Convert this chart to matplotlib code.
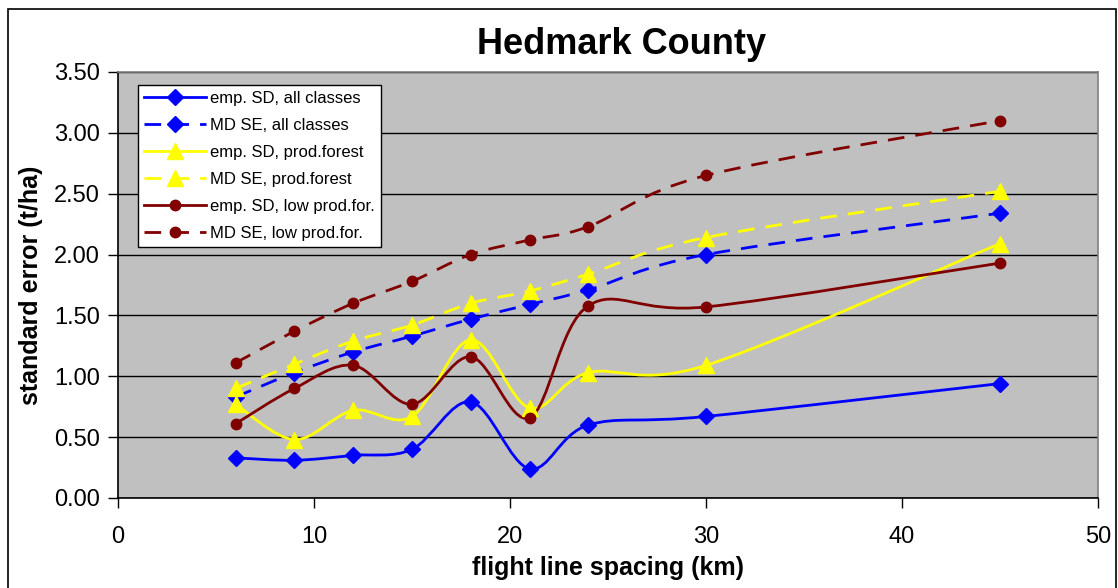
import numpy as np
import matplotlib
matplotlib.use("Agg")
import matplotlib.pyplot as plt
from matplotlib.path import Path
from matplotlib.patches import PathPatch, Rectangle
from matplotlib.lines import Line2D

plt.rcParams['font.family'] = ['Liberation Sans', 'DejaVu Sans']

spacing = [6, 9, 12, 15, 18, 21, 24, 30, 45]
emp_sd_all = [0.33, 0.31, 0.35, 0.40, 0.79, 0.24, 0.60, 0.67, 0.94]
md_se_all = [0.83, 1.03, 1.20, 1.33, 1.47, 1.59, 1.71, 2.00, 2.34]
emp_sd_prod = [0.77, 0.48, 0.72, 0.67, 1.30, 0.74, 1.03, 1.09, 2.09]
md_se_prod = [0.90, 1.10, 1.29, 1.42, 1.60, 1.70, 1.84, 2.14, 2.52]
emp_sd_low = [0.61, 0.90, 1.09, 0.77, 1.16, 0.66, 1.58, 1.57, 1.93]
md_se_low = [1.11, 1.37, 1.60, 1.78, 2.00, 2.12, 2.23, 2.65, 3.10]

labels = ["emp. SD, all classes", "MD SE, all classes",
          "emp. SD, prod.forest", "MD SE, prod.forest",
          "emp. SD, low prod.for.", "MD SE, low prod.for."]
yticks = [0.0, 0.5, 1.0, 1.5, 2.0, 2.5, 3.0, 3.5]
xticks = [0, 10, 20, 30, 40, 50]

BLUE = "#0000FF"
YELLOW = "#FFFF00"
MAROON = "#800000"
DASH = (0, (6, 4))

series = [
    (emp_sd_all, BLUE, "D", 8, "-"),
    (md_se_all, BLUE, "D", 8, DASH),
    (emp_sd_prod, YELLOW, "^", 11, "-"),
    (md_se_prod, YELLOW, "^", 11, DASH),
    (emp_sd_low, MAROON, "o", 7.5, "-"),
    (md_se_low, MAROON, "o", 7.5, DASH),
]


def smooth_path(x, y, t=1.0 / 6.0):
    x = np.asarray(x, float)
    y = np.asarray(y, float)
    pts = np.column_stack([x, y])
    n = len(pts)
    verts = [pts[0]]
    codes = [Path.MOVETO]
    for i in range(n - 1):
        p0 = pts[i - 1] if i > 0 else pts[i]
        p1 = pts[i]
        p2 = pts[i + 1]
        p3 = pts[i + 2] if i + 2 < n else pts[i + 1]
        c1 = p1 + (p2 - p0) * t
        c2 = p2 - (p3 - p1) * t
        verts += [c1, c2, p2]
        codes += [Path.CURVE4] * 3
    return Path(np.array(verts), codes)


fig = plt.figure(figsize=(11.18, 5.88), dpi=100)
fig.patch.set_facecolor("white")
fig.patches.append(Rectangle((8 / 1118, -0.01), (1116 - 8) / 1118, 1 - 9 / 588 + 0.01,
                             transform=fig.transFigure, fill=False,
                             edgecolor="black", linewidth=1.2, zorder=0))

ax = fig.add_axes([118 / 1118, 1 - 498 / 588, (1098 - 118) / 1118, (498 - 72) / 588])
ax.set_facecolor("#C0C0C0")
ax.set_xlim(0, 50)
ax.set_ylim(0, 3.5)
ax.set_xticks(xticks)
ax.set_yticks(yticks)
ax.set_yticklabels([f"{v:.2f}" for v in yticks])
ax.tick_params(axis="both", direction="out", length=7, width=1, labelsize=17, colors="black")
ax.tick_params(axis="x", pad=13)
ax.tick_params(axis="y", pad=6)
ax.grid(axis="y", color="black", linewidth=1)
ax.set_axisbelow(True)
for s in ["top", "right"]:
    ax.spines[s].set_color("#808080")
    ax.spines[s].set_linewidth(1.2)
for s in ["left", "bottom"]:
    ax.spines[s].set_color("black")
    ax.spines[s].set_linewidth(1.2)

handles = []
for (vals, col, mk, ms, ls), lab in zip(series, labels):
    patch = PathPatch(smooth_path(spacing, vals), facecolor="none", edgecolor=col,
                      linewidth=2, linestyle=ls, zorder=3)
    ax.add_patch(patch)
    ax.plot(spacing, vals, linestyle="none", marker=mk, markersize=ms,
            color=col, markeredgecolor=col, zorder=4)
    handles.append(Line2D([], [], color=col, linewidth=2, linestyle=ls,
                          marker=mk, markersize=ms, markeredgecolor=col))

leg = ax.legend(handles, labels, loc="upper left", bbox_to_anchor=(0.0204, 0.969),
                fontsize=12, frameon=True, fancybox=False, framealpha=1,
                edgecolor="black", handlelength=3.75, handletextpad=0.25,
                borderpad=0.35, labelspacing=0.72, borderaxespad=0)
leg.get_frame().set_linewidth(1)

ax.set_title("Hedmark County", fontsize=26, fontweight="bold", pad=13, x=0.514)
ax.set_xlabel("flight line spacing (km)", fontsize=18, fontweight="bold", labelpad=6)
ax.set_ylabel("standard error (t/ha)", fontsize=18, fontweight="bold", labelpad=8)

fig.savefig("out.png", dpi=100)
